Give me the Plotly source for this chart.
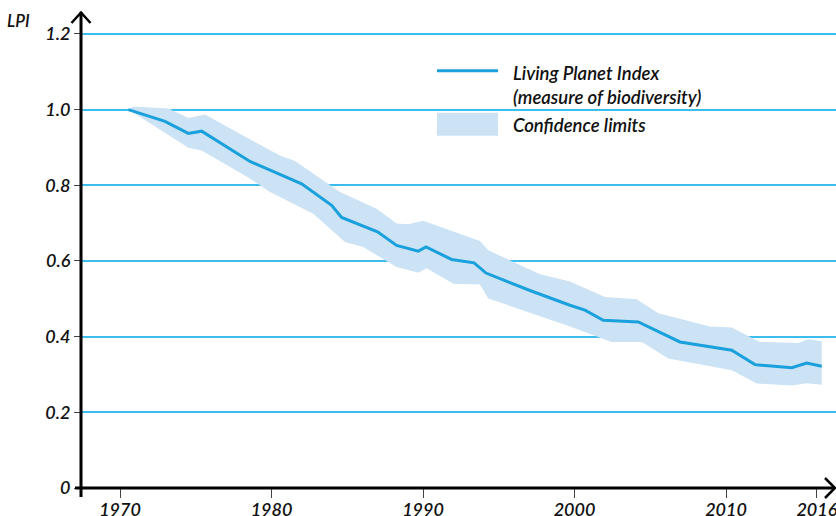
import plotly.graph_objects as go

# ---- data ----
lpi_year = [1970.55, 1972.97, 1974.51, 1975.39, 1978.58, 1981.99, 1983.97, 1984.63,
            1987.0, 1988.26, 1989.69, 1990.2, 1991.89, 1993.37, 1994.16, 1997.06,
            1999.70, 2000.69, 2001.9, 2004.21, 2006.96, 2010.38, 2011.91, 2014.34,
            2015.33, 2016.32]
lpi_value = [1.000, 0.969, 0.937, 0.943, 0.863, 0.804, 0.747, 0.715,
             0.677, 0.641, 0.626, 0.637, 0.604, 0.595, 0.568, 0.522,
             0.483, 0.470, 0.443, 0.439, 0.386, 0.364, 0.326, 0.318,
             0.330, 0.322]

upper_year = [1970.88, 1973.19, 1974.51, 1975.61, 1978.69, 1980.56, 1981.55, 1984.08,
              1984.52, 1986.94, 1988.26, 1989.03, 1990.02, 1993.76, 1994.31, 1997.72,
              1999.70, 2002.01, 2004.11, 2005.53, 2008.94, 2010.38, 2012.24, 2014.77,
              2015.43, 2016.32]
upper_value = [1.008, 1.003, 0.978, 0.987, 0.919, 0.879, 0.864, 0.795,
               0.782, 0.738, 0.699, 0.697, 0.706, 0.653, 0.628, 0.565,
               0.546, 0.505, 0.499, 0.462, 0.427, 0.424, 0.386, 0.383,
               0.393, 0.388]

lower_year = [1970.55, 1974.51, 1975.39, 1978.58, 1979.90, 1982.76, 1984.85, 1986.05,
              1988.26, 1989.69, 1990.24, 1992.0, 1993.76, 1994.31, 1999.70, 2002.45,
              2004.44, 2006.2, 2010.38, 2012.03, 2014.34, 2015.33, 2016.32]
lower_value = [1.000, 0.899, 0.892, 0.818, 0.782, 0.725, 0.650, 0.637,
               0.584, 0.569, 0.581, 0.540, 0.538, 0.501, 0.427, 0.386,
               0.386, 0.342, 0.311, 0.276, 0.271, 0.277, 0.273]

x_tick_vals = [1970, 1980, 1990, 2000, 2010, 2016]
x_tick_text = ["1970", "1980", "1990", "2000", "2010", "2016"]
y_tick_vals = [0, 0.2, 0.4, 0.6, 0.8, 1.0, 1.2]
y_tick_text = ["0", "0.2", "0.4", "0.6", "0.8", "1.0", "1.2"]

legend_line_text = "Living Planet Index<br>(measure of biodiversity)"
legend_band_text = "Confidence limits"
y_title = "LPI"

# ---- styles ----
LINE_COLOR = "#1aa0dc"
BAND_COLOR = "#cbe3f5"
GRID_COLOR = "#3dbdec"
FONT = "Lato"
TXT = "#111"

fig = go.Figure()

band_x = upper_year + lower_year[::-1]
band_y = upper_value + lower_value[::-1]
fig.add_trace(go.Scatter(x=band_x, y=band_y, fill="toself", mode="lines",
                         line=dict(width=0, color=BAND_COLOR), fillcolor=BAND_COLOR,
                         hoverinfo="skip", showlegend=False))
fig.add_trace(go.Scatter(x=lpi_year, y=lpi_value, mode="lines",
                         line=dict(color=LINE_COLOR, width=3), showlegend=False))

# plot area geometry in pixels
L, T, W, H = 81, 12, 755, 476


def px(x):
    return (x - L) / W


def py(y):
    return (T + H - y) / H


shapes = []
# axis lines
shapes.append(dict(type="line", xref="paper", yref="paper", x0=0, x1=0,
                   y0=py(497), y1=1, line=dict(color="black", width=3)))
shapes.append(dict(type="line", xref="paper", yref="paper", x0=px(75), x1=px(835),
                   y0=0, y1=0, line=dict(color="black", width=3)))
# arrows
shapes.append(dict(type="path", xref="paper", yref="paper",
                   path=f"M {px(71.5)},{py(23)} L {px(81)},{py(12.5)} L {px(90.5)},{py(23)}",
                   line=dict(color="black", width=2.5)))
shapes.append(dict(type="path", xref="paper", yref="paper",
                   path=f"M {px(825)},{py(478)} L {px(835)},{py(488)} L {px(825)},{py(498)}",
                   line=dict(color="black", width=2.5)))
# legend symbols
shapes.append(dict(type="line", xref="paper", yref="paper", x0=px(437), x1=px(498),
                   y0=py(70.7), y1=py(70.7), line=dict(color=LINE_COLOR, width=3)))
shapes.append(dict(type="rect", xref="paper", yref="paper", x0=px(437), x1=px(498),
                   y0=py(135.7), y1=py(112.7), line=dict(width=0), fillcolor=BAND_COLOR))

annotations = [
    dict(xref="paper", yref="paper", x=px(511), y=py(84.5), text=legend_line_text,
         showarrow=False, xanchor="left", yanchor="middle", align="left",
         font=dict(family=FONT, size=18.5, color=TXT, style="italic", weight=600)),
    dict(xref="paper", yref="paper", x=px(511), y=py(125), text=legend_band_text,
         showarrow=False, xanchor="left", yanchor="middle", align="left",
         font=dict(family=FONT, size=18.5, color=TXT, style="italic", weight=600)),
    dict(xref="paper", yref="paper", x=px(5), y=py(20), text=y_title,
         showarrow=False, xanchor="left", yanchor="middle",
         font=dict(family=FONT, size=17, color=TXT, style="italic", weight=600)),
]

fig.update_layout(
    width=836, height=516,
    margin=dict(l=L, r=836 - L - W, t=T, b=516 - T - H, pad=0),
    paper_bgcolor="white", plot_bgcolor="white",
    shapes=shapes, annotations=annotations,
    showlegend=False,
    xaxis=dict(range=[1970 + (L - 120) / 15.15, 1970 + (L + W - 120) / 15.15],
               automargin=False,
               tickvals=x_tick_vals, ticktext=x_tick_text,
               showgrid=False, zeroline=False, showline=False,
               ticks="outside", ticklen=9, tickwidth=1, tickcolor="#444",
               ticklabelstandoff=-4, ticklabeloverflow="allow",
               tickfont=dict(family=FONT, size=18, color=TXT, style="italic", weight=600)),
    yaxis=dict(range=[0, H / 378.4],
               automargin=False,
               tickvals=y_tick_vals, ticktext=y_tick_text,
               showgrid=True, gridcolor=GRID_COLOR, gridwidth=1.5,
               zeroline=False, showline=False,
               ticks="outside", ticklen=6, tickwidth=1, tickcolor="#444",
               ticklabeloverflow="allow",
               tickfont=dict(family=FONT, size=18, color=TXT, style="italic", weight=600)),
)

fig.write_html("out.html", config={"displayModeBar": False},
               post_script="document.body.style.margin='0';document.body.style.overflow='hidden';")
